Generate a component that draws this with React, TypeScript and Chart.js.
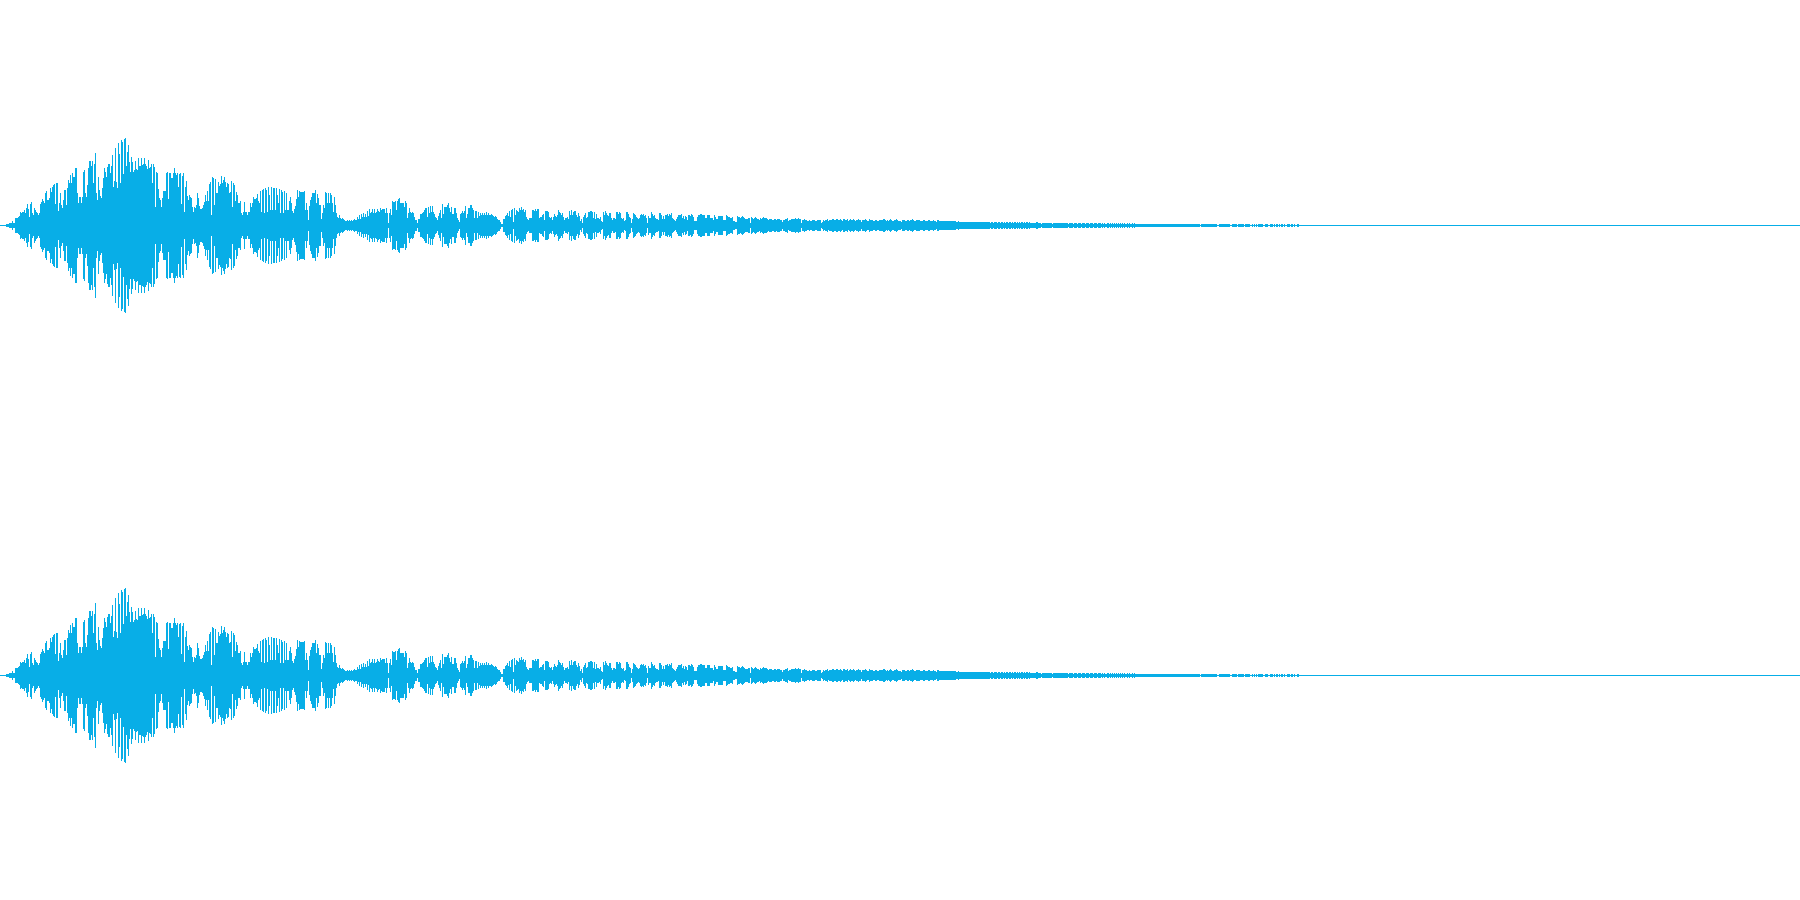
import React, { useEffect, useRef } from "react";
import { Chart, registerables } from "chart.js";

Chart.register(...registerables);

// Peak amplitude per audio column (both channels carry the same signal).
const peaks0000 = [
  0,0,0,0,0,0,1,1,1,2,
  2,2,4,2,2,7,7,7,8,9,
  13,12,13,13,15,12,17,21,16,8,
  21,23,12,10,17,15,13,12,10,12,
  21,23,26,24,22,32,34,25,25,27,
  37,33,38,40,41,21,42,42,14,22,
  32,20,17,25,35,35,20,37,45,42,
  50,42,52,48,48,57,57,32,22,28,
  28,22,28,53,55,32,28,40,57,64,
];
const peaks0090 = [
  64,59,64,42,61,72,32,25,48,35,
  29,27,37,47,57,53,48,58,61,61,
  52,59,70,38,44,77,43,37,82,71,
  42,85,83,51,86,87,59,73,80,63,
  53,68,63,53,55,64,56,55,67,59,
  59,67,60,61,67,61,59,56,65,57,
  58,61,42,61,58,18,53,52,36,27,
  25,18,27,34,34,34,52,53,26,52,
  52,47,47,52,57,52,50,52,38,51,
  52,21,49,52,13,38,44,29,25,30,
];
const peaks0190 = [
  28,27,18,13,18,17,20,32,27,19,
  16,16,17,20,23,30,24,34,24,41,
  43,10,48,47,20,46,32,32,43,39,
  41,49,42,45,48,43,38,42,41,32,
  33,44,18,42,40,24,33,30,22,22,
  24,12,10,13,23,13,13,10,13,13,
  22,18,22,28,26,26,27,31,24,22,
  34,13,35,36,12,37,35,13,38,30,
  15,38,15,37,37,15,37,30,22,36,
  12,35,33,12,34,15,32,15,15,24,
];
const peaks0290 = [
  28,22,14,12,16,19,26,35,28,34,
  33,33,33,33,34,15,22,15,5,19,
  25,28,32,32,32,35,22,31,27,20,
  20,6,12,20,17,33,32,22,32,22,
  32,30,22,13,28,20,12,8,7,10,
  7,6,7,6,5,4,4,5,4,5,
  4,5,4,5,6,5,5,8,6,10,
  6,11,8,12,8,11,8,14,9,16,
  12,13,16,12,16,12,13,16,14,13,
  17,15,16,16,16,12,17,12,2,12,
];
const peaks0390 = [
  16,10,24,23,23,24,15,24,26,27,
  22,22,22,22,18,24,22,7,12,17,
  13,12,13,12,8,5,5,2,6,6,
  11,11,12,13,15,17,17,8,18,12,
  19,13,19,13,11,8,7,5,9,12,
  15,7,21,11,18,18,18,20,22,17,
  13,18,11,11,17,17,12,7,5,3,
  11,12,14,12,14,19,7,11,17,17,
  20,20,17,15,7,14,14,7,13,9,
  12,10,12,10,12,10,13,10,12,10,
];
const peaks0490 = [
  10,11,10,9,8,9,8,6,5,5,
  3,1,1,6,6,9,10,12,9,14,
  8,15,16,3,17,10,15,14,13,17,
  15,18,15,16,13,15,8,6,5,7,
  7,7,15,15,14,16,14,16,16,7,
  8,8,10,11,5,14,14,14,13,8,
  7,8,5,8,11,9,8,10,15,13,
  12,10,12,8,5,7,7,8,6,14,
  10,15,10,13,14,14,10,8,12,9,
  4,6,2,8,10,12,7,8,13,13,
];
const peaks0590 = [
  14,14,13,7,13,6,11,7,7,6,
  8,4,3,13,10,14,12,10,9,12,
  12,7,5,7,7,6,13,13,11,13,
  12,7,6,7,4,5,13,13,11,8,
  7,2,6,12,11,10,8,7,6,7,
  10,11,10,11,9,10,7,2,9,7,
  7,13,11,9,10,7,6,6,5,12,
  12,10,6,9,6,10,10,11,9,11,
  10,12,7,6,5,4,6,8,10,10,
  10,11,7,9,6,9,8,5,10,10,
];
const peaks0690 = [
  9,11,10,8,4,4,4,8,10,10,
  11,11,10,10,10,7,7,10,10,10,
  7,7,7,5,10,8,6,6,9,9,
  9,9,9,5,5,5,10,9,8,8,
  7,7,8,4,4,3,3,9,8,8,
  7,8,9,8,7,6,6,6,7,7,
  2,8,7,6,7,8,7,6,6,5,
  7,6,7,8,7,7,7,6,5,6,
  6,6,5,5,6,6,5,6,6,6,
  5,5,3,5,5,6,6,7,4,5,
  5,6,6,6,6,7,6,6,7,6,
  6,2,5,5,6,5,5,4,4,5,
  4,4,5,5,5,4,4,5,5,5,
  5,2,3,5,4,5,5,6,4,5,
  5,5,6,6,5,5,6,6,5,5,
  6,5,4,6,6,5,5,6,4,5,
  6,5,5,6,5,4,5,5,6,5,
  5,3,5,5,5,6,5,4,4,6,
  5,5,5,4,4,5,5,4,4,5,
  5,5,5,6,6,5,4,5,4,5,
  6,5,4,4,5,5,6,5,4,4,
  4,3,5,5,5,4,4,5,5,4,
  5,5,6,5,4,4,5,5,5,5,
  4,4,4,5,5,4,4,4,5,5,
  4,4,4,5,4,4,3,5,5,4,
  4,4,4,4,4,4,4,4,4,4,
  4,4,4,4,4,4,3,3,4,3,
  3,3,3,3,3,3,3,3,3,3,
  3,3,3,3,3,3,3,3,3,3,
  3,3,3,3,3,3,3,3,3,3,
  2,3,3,2,3,3,3,2,3,3,
  2,3,3,2,3,2,3,3,2,3,
  3,2,3,2,3,3,2,3,2,3,
  2,3,3,2,3,2,3,3,2,3,
];
const peaks1030 = [
  2,2,2,2,2,2,3,3,2,2,
  2,1,2,2,2,2,2,2,2,2,
  2,2,1,2,2,2,2,2,2,2,
  2,2,2,2,2,2,2,2,1,2,
  2,2,2,1,2,2,2,1,2,2,
  2,1,2,2,2,1,2,2,2,1,
  2,2,2,1,2,2,2,1,2,2,
  2,1,2,1,2,1,1,2,2,1,
  2,1,2,1,2,1,2,1,2,1,
  2,1,2,1,2,1,1,2,1,2,
  1,1,2,1,2,1,1,1,1,1,
  1,1,1,1,1,1,1,1,1,1,
  1,1,1,1,1,1,1,1,1,1,
  1,1,1,1,1,1,1,1,1,1,
  1,1,1,1,1,1,1,1,1,1,
  1,1,1,1,1,1,1,1,1,1,
  1,1,1,1,1,1,1,1,1,1,
  0,1,1,1,1,1,1,1,1,1,
  1,1,1,1,1,1,1,0,0,1,
  1,1,1,1,1,1,1,1,1,1,
  0,0,1,1,1,1,1,0,1,1,
  1,1,1,1,0,1,1,1,1,1,
  0,0,1,0,1,0,1,0,1,1,
  1,1,1,0,0,1,1,1,0,0,
  1,1,1,0,1,0,1,1,0,1,
  0,1,1,0,1,0,0,1,1,1,
  0,1,1,0,1,0,0,1,1,0,
];
const peaks1300 = [
  0,0,0,0,0,0,0,0,0,0,0,0,0,0,0,0,0,0,0,0,0,0,0,0,0,0,0,0,0,0,0,0,0,0,0,0,0,0,0,0,0,0,0,0,0,0,0,0,0,0,
  0,0,0,0,0,0,0,0,0,0,0,0,0,0,0,0,0,0,0,0,0,0,0,0,0,0,0,0,0,0,0,0,0,0,0,0,0,0,0,0,0,0,0,0,0,0,0,0,0,0,
  0,0,0,0,0,0,0,0,0,0,0,0,0,0,0,0,0,0,0,0,0,0,0,0,0,0,0,0,0,0,0,0,0,0,0,0,0,0,0,0,0,0,0,0,0,0,0,0,0,0,
  0,0,0,0,0,0,0,0,0,0,0,0,0,0,0,0,0,0,0,0,0,0,0,0,0,0,0,0,0,0,0,0,0,0,0,0,0,0,0,0,0,0,0,0,0,0,0,0,0,0,
  0,0,0,0,0,0,0,0,0,0,0,0,0,0,0,0,0,0,0,0,0,0,0,0,0,0,0,0,0,0,0,0,0,0,0,0,0,0,0,0,0,0,0,0,0,0,0,0,0,0,
  0,0,0,0,0,0,0,0,0,0,0,0,0,0,0,0,0,0,0,0,0,0,0,0,0,0,0,0,0,0,0,0,0,0,0,0,0,0,0,0,0,0,0,0,0,0,0,0,0,0,
  0,0,0,0,0,0,0,0,0,0,0,0,0,0,0,0,0,0,0,0,0,0,0,0,0,0,0,0,0,0,0,0,0,0,0,0,0,0,0,0,0,0,0,0,0,0,0,0,0,0,
  0,0,0,0,0,0,0,0,0,0,0,0,0,0,0,0,0,0,0,0,0,0,0,0,0,0,0,0,0,0,0,0,0,0,0,0,0,0,0,0,0,0,0,0,0,0,0,0,0,0,
  0,0,0,0,0,0,0,0,0,0,0,0,0,0,0,0,0,0,0,0,0,0,0,0,0,0,0,0,0,0,0,0,0,0,0,0,0,0,0,0,0,0,0,0,0,0,0,0,0,0,
  0,0,0,0,0,0,0,0,0,0,0,0,0,0,0,0,0,0,0,0,0,0,0,0,0,0,0,0,0,0,0,0,0,0,0,0,0,0,0,0,0,0,0,0,0,0,0,0,0,0,
];

const peaks = [
  ...peaks0000, ...peaks0090, ...peaks0190, ...peaks0290, ...peaks0390,
  ...peaks0490, ...peaks0590, ...peaks0690, ...peaks1030, ...peaks1300,
];
const columns = peaks.map((_, i) => i);
const WAVE_COLOR = "#08aee7";

export default function App() {
  const ref = useRef<HTMLCanvasElement>(null);
  useEffect(() => {
    document.body.style.margin = "0";
    document.body.style.background = "#ffffff";
    const span = peaks.map((p) => [-p - 0.5, p + 0.5]);
    const shared = {
      backgroundColor: WAVE_COLOR,
      barThickness: 1,
      grouped: false,
      borderWidth: 0,
      inflateAmount: 0,
    };
    const chart = new Chart(ref.current!, {
      type: "bar",
      data: {
        labels: columns,
        datasets: [
          { label: "Left", data: span as any, yAxisID: "left", ...shared },
          { label: "Right", data: span as any, yAxisID: "right", ...shared },
        ],
      },
      options: {
        responsive: false,
        animation: false,
        maintainAspectRatio: false,
        layout: { padding: 0 },
        plugins: { legend: { display: false }, tooltip: { enabled: false } },
        scales: {
          x: { display: false, offset: true },
          left: { display: false, min: -674.5, max: 225.5 },
          right: { display: false, min: -224.5, max: 675.5 },
        },
      },
    });
    return () => chart.destroy();
  }, []);
  return <canvas ref={ref} width={1800} height={900} style={{ display: "block", width: 1800, height: 900 }} />;
}
